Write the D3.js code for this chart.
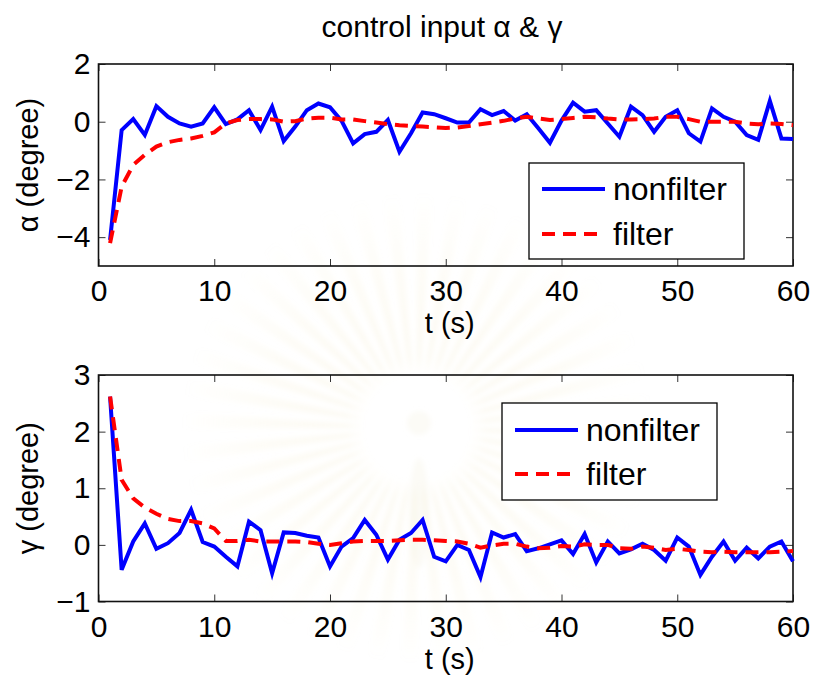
<!DOCTYPE html>
<html>
<head>
<meta charset="utf-8">
<script src="https://cdn.jsdelivr.net/npm/d3@7"></script>
<style>
  html, body { margin: 0; padding: 0; background: #fff; }
  svg { display: block; font-family: "Liberation Sans", Arial, Helvetica, sans-serif; }
</style>
</head>
<body>
<svg id="chart" width="816" height="677"></svg>
<script>
// Sample times (s)
const tSec = d3.range(1, 61);

// Control input alpha (degree)
const alphaNonfilter = [
  -4.10, -0.29, 0.09, -0.46, 0.54, 0.17, -0.06, -0.17, -0.06, 0.50,
  -0.08, 0.08, 0.40, -0.29, 0.52, -0.67, -0.17, 0.40, 0.63, 0.50,
  0.03, -0.75, -0.43, -0.35, 0.06, -1.04, -0.40, 0.32, 0.26, 0.12,
  -0.03, -0.03, 0.43, 0.23, 0.37, 0.04, 0.26, -0.23, -0.73, 0.04,
  0.66, 0.35, 0.40, -0.06, -0.52, 0.52, 0.23, -0.35, 0.17, 0.40,
  -0.40, -0.69, 0.46, 0.17, 0.00, -0.46, -0.63, 0.72, -0.58, -0.60
];
const alphaFilter = [
  -4.21, -2.25, -1.50, -1.15, -0.86, -0.71, -0.63, -0.58, -0.49, -0.37,
  -0.06, 0.06, 0.09, 0.09, 0.08, 0.00, 0.02, 0.11, 0.14, 0.14,
  0.08, 0.08, 0.02, -0.03, -0.08, -0.12, -0.15, -0.17, -0.19, -0.22,
  -0.20, -0.15, -0.09, -0.03, 0.03, 0.11, 0.17, 0.11, 0.06, 0.09,
  0.13, 0.17, 0.15, 0.11, 0.08, 0.08, 0.09, 0.11, 0.17, 0.17,
  0.09, 0.00, 0.00, 0.00, 0.00, -0.06, -0.09, -0.06, -0.08, -0.12
];

// Control input gamma (degree)
const gammaNonfilter = [
  2.62, -0.44, 0.06, 0.38, -0.07, 0.03, 0.21, 0.62, 0.05, -0.03,
  -0.21, -0.38, 0.41, 0.26, -0.50, 0.22, 0.21, 0.16, 0.13, -0.38,
  -0.03, 0.12, 0.44, 0.18, -0.26, 0.09, 0.21, 0.44, -0.21, -0.29,
  0.00, -0.09, -0.57, 0.22, 0.13, 0.19, -0.11, -0.06, 0.01, 0.08,
  -0.16, 0.19, -0.31, 0.06, -0.15, -0.08, 0.02, -0.09, -0.28, 0.13,
  -0.03, -0.53, -0.21, 0.06, -0.28, -0.05, -0.24, -0.03, 0.06, -0.29
];
const gammaFilter = [
  2.62, 1.15, 0.82, 0.66, 0.55, 0.46, 0.42, 0.42, 0.38, 0.29,
  0.07, 0.07, 0.09, 0.06, 0.06, 0.06, 0.06, 0.05, 0.02, 0.00,
  0.03, 0.06, 0.07, 0.07, 0.07, 0.08, 0.09, 0.09, 0.08, 0.07,
  0.06, 0.02, -0.05, -0.01, 0.02, 0.02, -0.03, -0.06, -0.05, -0.02,
  -0.03, 0.01, 0.00, 0.00, -0.06, -0.07, -0.03, -0.05, -0.09, -0.07,
  -0.09, -0.12, -0.13, -0.12, -0.13, -0.13, -0.13, -0.13, -0.12, -0.11
];

// Axis ticks and labels
const xTicks = [0, 10, 20, 30, 40, 50, 60];
const alphaTicks = [-4, -2, 0, 2];
const gammaTicks = [-1, 0, 1, 2, 3];
const seriesNames = ["nonfilter", "filter"];
const titleText = "control input \u03B1 & \u03B3";
const xLabel = "t (s)";
const alphaLabel = "\u03B1 (degree)";
const gammaLabel = "\u03B3 (degree)";

const svg = d3.select("#chart");
const BLUE = "#0000ff", RED = "#ff0000";
const DASH = "13,8";

// faint sunburst emblem in the background
(function drawEmblem() {
  const cx = 417, cy = 428;
  const defs = svg.append("defs");
  const g = defs.append("radialGradient")
    .attr("id", "rayFade").attr("gradientUnits", "userSpaceOnUse")
    .attr("cx", 0).attr("cy", 0).attr("r", 235);
  g.append("stop").attr("offset", "0.22").attr("stop-color", "#f1e6bd").attr("stop-opacity", 0);
  g.append("stop").attr("offset", "0.30").attr("stop-color", "#f1e6bd").attr("stop-opacity", 0.2);
  g.append("stop").attr("offset", "0.65").attr("stop-color", "#f1e6bd").attr("stop-opacity", 0.13);
  g.append("stop").attr("offset", "1").attr("stop-color", "#f1e6bd").attr("stop-opacity", 0);
  defs.append("filter").attr("id", "soft").attr("x", "-20%").attr("y", "-20%")
    .attr("width", "140%").attr("height", "140%")
    .append("feGaussianBlur").attr("stdDeviation", 2.5);
  const em = svg.append("g").attr("class", "emblem")
    .attr("transform", `translate(${cx},${cy})`).attr("filter", "url(#soft)");
  const n = 44;
  const rays = d3.range(n).map(i => i * 2 * Math.PI / n);
  const arc = d3.arc().innerRadius(55).outerRadius(235);
  em.selectAll("path.ray").data(rays).join("path").attr("class", "ray")
    .attr("d", a => arc({ startAngle: a, endAngle: a + Math.PI / n * 0.9 }))
    .attr("fill", "url(#rayFade)");
  em.append("ellipse").attr("cx", 2).attr("cy", 85).attr("rx", 10).attr("ry", 55)
    .attr("fill", "#f4efdc").attr("opacity", 0.25);
  em.append("circle").attr("cx", 2).attr("cy", -5).attr("r", 12)
    .attr("fill", "#f4efdc").attr("opacity", 0.25);
})();

function panel(opts) {
  const { x0, x1, y0, y1, yDomain, yTicks, nonfilter, filter, ylabel, legend } = opts;
  const g = svg.append("g");
  const x = d3.scaleLinear().domain([0, 60]).range([x0, x1]);
  const y = d3.scaleLinear().domain(yDomain).range([y1, y0]);

  const tickLen = 7;
  const styleAxis = sel => {
    sel.select(".domain").remove();
    sel.selectAll(".tick line").attr("stroke", "#333").attr("stroke-width", 1);
    sel.selectAll(".tick text").attr("fill", "#000")
      .style("font-size", "30px").style("font-family", "'Liberation Sans', Arial, sans-serif");
  };

  g.append("g").attr("transform", `translate(0,${y1})`)
    .call(d3.axisBottom(x).tickValues(xTicks).tickSizeInner(-tickLen).tickSizeOuter(0).tickPadding(14))
    .call(styleAxis);
  g.append("g").attr("transform", `translate(0,${y0})`)
    .call(d3.axisTop(x).tickValues(xTicks).tickSizeInner(-tickLen).tickSizeOuter(0).tickFormat(""))
    .call(styleAxis);
  g.append("g").attr("transform", `translate(${x0},0)`)
    .call(d3.axisLeft(y).tickValues(yTicks).tickSizeInner(-tickLen).tickSizeOuter(0).tickPadding(8)
      .tickFormat(d => d < 0 ? "\u2212" + Math.abs(d) : String(d)))
    .call(styleAxis);
  g.append("g").attr("transform", `translate(${x1},0)`)
    .call(d3.axisRight(y).tickValues(yTicks).tickSizeInner(-tickLen).tickSizeOuter(0).tickFormat(""))
    .call(styleAxis);

  // plot box
  g.append("rect").attr("x", x0).attr("y", y0).attr("width", x1 - x0).attr("height", y1 - y0)
    .attr("fill", "none").attr("stroke", "#111").attr("stroke-width", 1.6);

  const line = d3.line().x((d, i) => x(tSec[i])).y(d => y(d));
  g.append("path").datum(nonfilter).attr("d", line)
    .attr("fill", "none").attr("stroke", BLUE).attr("stroke-width", 4).attr("stroke-linejoin", "miter");
  g.append("path").datum(filter).attr("d", line)
    .attr("fill", "none").attr("stroke", RED).attr("stroke-width", 4).attr("stroke-dasharray", DASH);

  // axis labels
  g.append("text").attr("x", (x0 + x1) / 2 + 4).attr("y", y1 + opts.xlabelOffset)
    .attr("text-anchor", "middle").style("font-size", "29px").text(xLabel);
  g.append("text").attr("transform", `translate(38,${(y0 + y1) / 2}) rotate(-90)`)
    .attr("text-anchor", "middle").style("font-size", "29px").text(ylabel);

  // legend
  const L = legend;
  const lg = g.append("g");
  lg.append("rect").attr("x", L.x).attr("y", L.y).attr("width", L.w).attr("height", L.h)
    .attr("fill", "#fff").attr("stroke", "#000").attr("stroke-width", 1.3);
  const styles = [{ c: BLUE, dash: null }, { c: RED, dash: DASH }];
  seriesNames.forEach((name, i) => {
    const ly = L.y + L.rowY[i];
    lg.append("line").attr("x1", L.x + 13).attr("x2", L.x + 76).attr("y1", ly).attr("y2", ly)
      .attr("stroke", styles[i].c).attr("stroke-width", 4)
      .attr("stroke-dasharray", styles[i].dash);
    lg.append("text").attr("x", L.x + 84).attr("y", ly + 11)
      .style("font-size", "32px").text(name);
  });
}

svg.append("text").attr("x", 442).attr("y", 37).attr("text-anchor", "middle")
  .style("font-size", "30px").text(titleText);

panel({
  x0: 98.5, x1: 793, y0: 64, y1: 266,
  yDomain: [-5, 2], yTicks: alphaTicks,
  nonfilter: alphaNonfilter, filter: alphaFilter,
  ylabel: alphaLabel, xlabelOffset: 67,
  legend: { x: 529, y: 163, w: 215, h: 96, rowY: [26, 71] }
});
panel({
  x0: 98.5, x1: 793, y0: 375, y1: 601.5,
  yDomain: [-1, 3], yTicks: gammaTicks,
  nonfilter: gammaNonfilter, filter: gammaFilter,
  ylabel: gammaLabel, xlabelOffset: 67,
  legend: { x: 502, y: 403, w: 215, h: 97, rowY: [27, 71] }
});
</script>
</body>
</html>
